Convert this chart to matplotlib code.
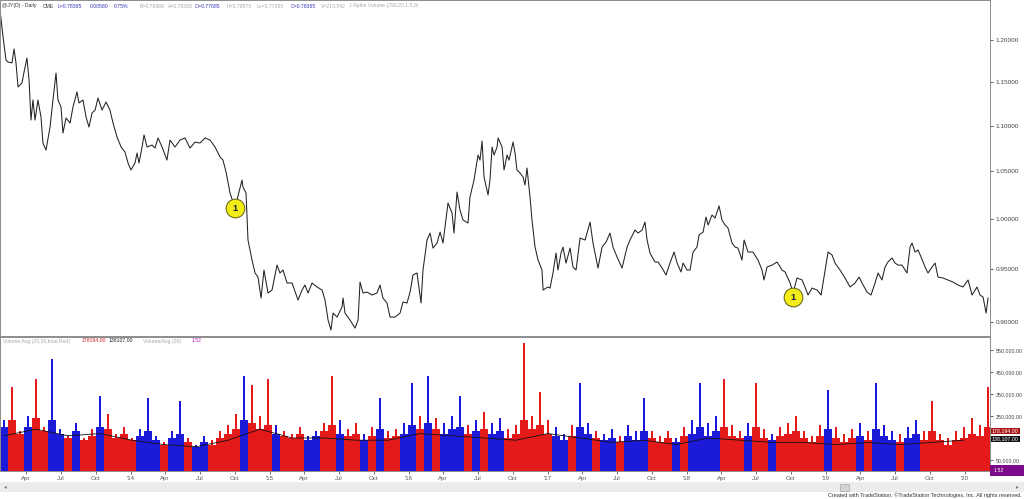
import matplotlib.pyplot as plt
import matplotlib.patches as mpatches
from matplotlib.ticker import NullLocator
import numpy as np

# JY daily close (decimal year, price)
t_price = [
    2013.058, 2013.080, 2013.101, 2013.116, 2013.144, 2013.159, 2013.173, 2013.188, 2013.216, 2013.231,
    2013.252, 2013.267, 2013.281, 2013.295, 2013.310, 2013.331, 2013.353, 2013.367, 2013.389, 2013.418,
    2013.439, 2013.461, 2013.475, 2013.497, 2013.511, 2013.533, 2013.562, 2013.583, 2013.612, 2013.626,
    2013.655, 2013.677, 2013.698, 2013.720, 2013.742, 2013.763, 2013.792, 2013.821, 2013.849, 2013.871,
    2013.900, 2013.929, 2013.957, 2013.979,
    2014.000, 2014.029, 2014.044, 2014.058, 2014.080, 2014.094, 2014.116, 2014.152, 2014.173, 2014.195,
    2014.224, 2014.259, 2014.281, 2014.317, 2014.353, 2014.389, 2014.425, 2014.461, 2014.497, 2014.533,
    2014.569, 2014.605, 2014.641, 2014.662, 2014.684, 2014.713, 2014.734, 2014.749, 2014.763, 2014.799,
    2014.806, 2014.828, 2014.842, 2014.871, 2014.893, 2014.914, 2014.936, 2014.957, 2014.986,
    2015.015, 2015.051, 2015.072, 2015.094, 2015.123, 2015.159, 2015.202, 2015.231, 2015.252, 2015.274,
    2015.303, 2015.339, 2015.375, 2015.396, 2015.418, 2015.439, 2015.454, 2015.483, 2015.518, 2015.526,
    2015.540, 2015.576, 2015.598, 2015.612, 2015.634, 2015.648, 2015.670, 2015.698, 2015.734, 2015.770,
    2015.792, 2015.813, 2015.842, 2015.864, 2015.900, 2015.936, 2015.957, 2015.986,
    2016.008, 2016.029, 2016.058, 2016.087, 2016.101, 2016.130, 2016.152, 2016.173, 2016.202, 2016.224,
    2016.245, 2016.281, 2016.310, 2016.324, 2016.346, 2016.367, 2016.389, 2016.425, 2016.439, 2016.468,
    2016.497, 2016.511, 2016.526, 2016.540, 2016.569, 2016.583, 2016.598, 2016.612, 2016.634, 2016.641,
    2016.670, 2016.684, 2016.706, 2016.720, 2016.749, 2016.763, 2016.777, 2016.799, 2016.821, 2016.835,
    2016.849, 2016.871, 2016.885, 2016.907, 2016.929, 2016.957, 2016.965,
    2017.000, 2017.015, 2017.036, 2017.058, 2017.072, 2017.094, 2017.108, 2017.130, 2017.159, 2017.180,
    2017.202, 2017.231, 2017.267, 2017.303, 2017.324, 2017.360, 2017.389, 2017.418, 2017.446, 2017.468,
    2017.497, 2017.533, 2017.569, 2017.590, 2017.626, 2017.648, 2017.677, 2017.698, 2017.713, 2017.734,
    2017.770, 2017.792, 2017.821, 2017.849, 2017.878, 2017.907, 2017.929, 2017.957, 2017.972,
    2018.000, 2018.022, 2018.044, 2018.072, 2018.087, 2018.116, 2018.137, 2018.152, 2018.180, 2018.202,
    2018.231, 2018.252, 2018.274, 2018.295, 2018.324, 2018.346, 2018.367, 2018.396, 2018.411, 2018.439,
    2018.475, 2018.511, 2018.540, 2018.554, 2018.576, 2018.612, 2018.648, 2018.684, 2018.706, 2018.742,
    2018.763, 2018.792, 2018.828, 2018.849, 2018.871, 2018.900, 2018.936, 2018.965, 2018.986,
    2019.015, 2019.044, 2019.065, 2019.101, 2019.137, 2019.173, 2019.209, 2019.238, 2019.267, 2019.295,
    2019.324, 2019.353, 2019.375, 2019.403, 2019.425, 2019.446, 2019.475, 2019.497, 2019.518, 2019.547,
    2019.583, 2019.605, 2019.619, 2019.641, 2019.662, 2019.684, 2019.713, 2019.734, 2019.763, 2019.785,
    2019.806, 2019.842, 2019.878, 2019.914, 2019.950, 2019.986,
    2020.022, 2020.051, 2020.087, 2020.108, 2020.130, 2020.152, 2020.166,
]
price = [
    1.2377, 1.2041, 1.1761, 1.1737, 1.1726, 1.1894, 1.1726, 1.1442, 1.1489, 1.1618,
    1.1785, 1.1524, 1.1063, 1.1291, 1.1063, 1.1291, 1.1097, 1.0806, 1.0729, 1.0984,
    1.1291, 1.1606, 1.1291, 1.1211, 1.0917, 1.1086, 1.1029, 1.1211, 1.1384, 1.1257,
    1.1291, 1.1097, 1.0984, 1.1142, 1.1176, 1.1314, 1.1176, 1.1268, 1.1176, 1.1029,
    1.0873, 1.0762, 1.0708, 1.0588,
    1.0513, 1.0588, 1.0697, 1.0588, 1.0762, 1.0895, 1.0762, 1.0784, 1.0751, 1.0862,
    1.0762, 1.0620, 1.0839, 1.0762, 1.0839, 1.0862, 1.0751, 1.0817, 1.0806, 1.0862,
    1.0839, 1.0762, 1.0653, 1.0620, 1.0491, 1.0269, 1.0175, 1.0072, 1.0196, 1.0406,
    1.0332, 1.0269, 0.9788, 0.9590, 0.9464, 0.9425, 0.9225, 0.9493, 0.9273,
    0.9301, 0.9541, 0.9464, 0.9493, 0.9368, 0.9368, 0.9207, 0.9301, 0.9349, 0.9273,
    0.9368, 0.9330, 0.9301, 0.9207, 0.9021, 0.8929, 0.9085, 0.9048, 0.9141, 0.9225,
    0.9085, 0.9021, 0.8975, 0.8947, 0.9021, 0.9377, 0.9273, 0.9282, 0.9254, 0.9273,
    0.9349, 0.9225, 0.9179, 0.9048, 0.9048, 0.9085, 0.9188, 0.9179,
    0.9282, 0.9445, 0.9464, 0.9179, 0.9493, 0.9788, 0.9858, 0.9708, 0.9758, 0.9868,
    0.9758, 1.0165, 1.0061, 0.9858, 1.0279, 1.0092, 0.9990, 0.9959, 1.0227, 1.0406,
    1.0675, 1.0620, 1.0828, 1.0438, 1.0248, 1.0406, 1.0762, 1.0675, 1.0762, 1.0862,
    1.0762, 1.0513, 1.0675, 1.0620, 1.0817, 1.0697, 1.0513, 1.0481, 1.0438, 1.0353,
    1.0534, 1.0227, 0.9990, 0.9718, 0.9590, 0.9493, 0.9301,
    0.9330, 0.9320, 0.9464, 0.9659, 0.9493, 0.9659, 0.9718, 0.9561, 0.9708, 0.9522,
    0.9493, 0.9808, 0.9788, 0.9969, 0.9758, 0.9512, 0.9718, 0.9768, 0.9858, 0.9718,
    0.9620, 0.9512, 0.9718, 0.9788, 0.9888, 0.9858, 0.9888, 0.9969, 0.9788, 0.9659,
    0.9571, 0.9571, 0.9512, 0.9445, 0.9561, 0.9669, 0.9561, 0.9474, 0.9561,
    0.9493, 0.9493, 0.9669, 0.9718, 0.9838, 0.9868, 1.0020, 0.9939, 1.0041, 1.0010,
    1.0134, 0.9990, 0.9939, 0.9909, 0.9758, 0.9718, 0.9708, 0.9590, 0.9788, 0.9669,
    0.9669, 0.9590, 0.9493, 0.9397, 0.9522, 0.9541, 0.9571, 0.9493, 0.9474, 0.9368,
    0.9273, 0.9416, 0.9397, 0.9330, 0.9254, 0.9320, 0.9301, 0.9254, 0.9425,
    0.9669, 0.9639, 0.9561, 0.9493, 0.9416, 0.9330, 0.9368, 0.9425, 0.9349, 0.9282,
    0.9254, 0.9368, 0.9464, 0.9397, 0.9522, 0.9571, 0.9610, 0.9561, 0.9541, 0.9541,
    0.9464, 0.9718, 0.9758, 0.9669, 0.9689, 0.9620, 0.9522, 0.9464, 0.9522, 0.9561,
    0.9425, 0.9416, 0.9397, 0.9377, 0.9349, 0.9330,
    0.9397, 0.9254, 0.9330, 0.9254, 0.9235, 0.9085, 0.9225,
]

# volume, one slot per ~3 weeks (thousands of contracts)
# typical daily level in the slot, and the tallest daily bar in it
vol_start = 2013.087
vol_step = 0.05755
vol_typ_k = [
    200, 230, 170, 200, 240, 180, 230, 170, 150, 180,
    140, 160, 200, 190, 150, 170, 140, 160, 180, 140,
    120, 150, 170, 130, 110, 130, 120, 150, 170, 190,
    230, 220, 190, 210, 170, 160, 150, 170, 140, 160,
    180, 210, 170, 160, 170, 140, 160, 190, 150, 160,
    170, 210, 190, 220, 190, 170, 190, 200, 170, 180,
    190, 170, 180, 150, 170, 230, 190, 210, 170, 160,
    140, 160, 200, 170, 150, 140, 150, 130, 160, 140,
    180, 150, 130, 150, 130, 160, 170, 200, 160, 180,
    200, 160, 150, 160, 200, 150, 140, 160, 170, 180,
    150, 130, 160, 190, 150, 130, 150, 160, 140, 190,
    160, 140, 130, 150, 170, 140, 180, 140, 120, 140,
    150, 170, 160, 200,
]
vol_max_k = [
    230, 380, 180, 250, 420, 200, 510, 190, 160, 220,
    150, 190, 340, 260, 170, 200, 150, 190, 330, 160,
    130, 180, 320, 150, 120, 160, 140, 180, 210, 260,
    430, 390, 250, 420, 210, 180, 170, 200, 160, 180,
    220, 430, 230, 190, 220, 170, 200, 330, 180, 190,
    220, 400, 250, 430, 240, 220, 250, 340, 210, 230,
    270, 220, 240, 190, 210, 580, 250, 360, 230, 200,
    170, 210, 400, 220, 180, 170, 190, 160, 210, 180,
    330, 180, 160, 180, 150, 200, 230, 400, 220, 250,
    420, 210, 180, 220, 400, 190, 170, 200, 220, 250,
    180, 160, 210, 370, 200, 170, 190, 220, 180, 400,
    210, 180, 170, 200, 230, 180, 320, 170, 150, 180,
    200, 240, 210, 380,
]

# 20-day volume average, read every ~12 weeks (thousands)
avg_step = 0.2302
vol_avg_k = [
    160, 190, 160, 170, 140, 120, 110, 140, 190, 150,
    150, 140, 140, 170, 160, 150, 140, 170, 150, 130,
    140, 120, 150, 140, 130, 130, 120, 130, 120, 130,
    140,
]

# J-Spike signals
spike_t = [2014.749, 2018.763]
spike_p = [1.0113, 0.9235]

month_off = [('Apr', 0.2466), ('Jul', 0.4959), ('Oct', 0.7479)]
price_ticks = [0.90, 0.95, 1.00, 1.05, 1.10, 1.15, 1.20]
vol_ticks = [50000, 250000, 350000, 450000, 550000]

W, H = 1024, 499
fx = lambda px: px / W
fy = lambda py: 1 - py / H

plt.rcParams['font.family'] = ['Liberation Sans', 'DejaVu Sans']
fig = plt.figure(figsize=(10.24, 4.99), dpi=100)

ax_p = fig.add_axes([0, fy(336), fx(990), fy(0) - fy(336)])
ax_v = fig.add_axes([0, fy(471), fx(990), fy(337) - fy(471)])
x0, x1 = 2013.058, 2020.180

# price panel
ax_p.plot(t_price, price, color='#222222', lw=0.75)
ax_p.plot(spike_t, spike_p, 'o', ms=13.5, mfc='#f4ec16', mec='#5a5a10', mew=0.7)
for t, p in zip(spike_t, spike_p):
    ax_p.text(t, p, '1', ha='center', va='center', fontsize=6.5, fontweight='bold', color='#1b1b40')
ax_p.set_yscale('log')
ax_p.set_xlim(x0, x1)
ax_p.set_ylim(0.8875, 1.2504)
ax_p.yaxis.tick_right()
ax_p.set_yticks(price_ticks)
ax_p.set_yticklabels([f'{v:.5f}' for v in price_ticks])
ax_p.yaxis.set_minor_locator(NullLocator())
ax_p.set_xticks([])
ax_p.tick_params(axis='y', length=2, width=0.6, pad=2, labelsize=4.6, colors='#444444')

# volume panel
vt = vol_start + vol_step * np.arange(len(vol_typ_k))
vtyp = np.array(vol_typ_k) * 1000
vmax = np.array(vol_max_k) * 1000
pv = np.interp(vt, t_price, price)
up = np.r_[True, np.diff(pv) >= 0]
colors = np.where(up, '#1a1ad8', '#e41a1a')
ax_v.bar(vt, vmax, width=vol_step * 0.22, color=colors, linewidth=0)
ax_v.bar(vt, vtyp, width=vol_step, color=colors, linewidth=0)
at = vol_start + avg_step * np.arange(len(vol_avg_k))
ax_v.plot(at, np.array(vol_avg_k) * 1000, color='#111111', lw=0.6)
ax_v.set_xlim(x0, x1)
ax_v.set_ylim(0, 609000)
ax_v.yaxis.tick_right()
ax_v.set_yticks(vol_ticks)
ax_v.set_yticklabels([f'{v:,.2f}' for v in vol_ticks])
ax_v.tick_params(axis='y', length=2, width=0.6, pad=2, labelsize=3.8, colors='#444444')

xt, xl = [], []
for y in range(2013, 2021):
    xt.append(y)
    xl.append("'" + str(y)[2:])
    for name, off in month_off:
        xt.append(y + off)
        xl.append(name)
keep = [(a, b) for a, b in zip(xt, xl) if x0 < a < x1]
ax_v.set_xticks([a for a, _ in keep])
ax_v.set_xticklabels([b for _, b in keep])
ax_v.tick_params(axis='x', length=2, width=0.6, pad=1.5, labelsize=4.4, colors='#555555')

for ax in (ax_p, ax_v):
    for s in ax.spines.values():
        s.set_color('#8c8c8c')
        s.set_linewidth(0.7)

# header texts
head = [
    (2, '@JY(D) - Daily', '#333333'), (43, 'CME', '#333333'),
    (58, 'L=0.78365', '#3636b8'), (90, '0.00580', '#3636b8'), (114, '0.75%', '#3636b8'),
    (140, 'B=0.78369', '#a8a8a8'), (168, 'A=0.78365', '#a8a8a8'),
    (195, 'O=0.77685', '#3636b8'), (227, 'H=0.78575', '#a8a8a8'), (257, 'Lo=0.77385', '#a8a8a8'),
    (291, 'C=0.78365', '#3636b8'), (321, 'V=213,542', '#a8a8a8'),
    (349, 'J-Spike Volume (250,20,1.5,0)', '#a8a8a8'),
]
for px, s, c in head:
    fig.text(fx(px), fy(6), s, fontsize=3.7, color=c, va='center')

vhead = [
    (3, 'Volume Avg (20,20,blue,Red)', '#a8a8a8'), (82, '178194.00', '#d02020'),
    (109, '138107.00', '#222222'), (143, 'Volume/Avg (20)', '#a8a8a8'), (192, '1.52', '#c020c0'),
]
for px, s, c in vhead:
    fig.text(fx(px), fy(341), s, fontsize=3.7, color=c, va='center')

# last-value boxes on the volume scale
for py, s, bg in [(431, '178,194.00', '#a81414'), (439, '138,107.00', '#111111')]:
    fig.text(fx(992), fy(py), s, fontsize=3.8, color='white', va='center',
             bbox=dict(boxstyle='square,pad=0.15', fc=bg, ec='none'))
fig.patches.append(mpatches.Rectangle((fx(990), fy(476)), fx(34), fy(465) - fy(476),
                                      transform=fig.transFigure, fc='#7d0a8a', ec='none'))
fig.text(fx(994), fy(470.5), '1.52', fontsize=3.8, color='white', va='center')

# scroll bar strip and footer
fig.patches.append(mpatches.Rectangle((0, fy(492)), 1, fy(482) - fy(492),
                                      transform=fig.transFigure, fc='#ececec', ec='none'))
fig.patches.append(mpatches.Rectangle((fx(840), fy(491)), fx(9), fy(484) - fy(491),
                                      transform=fig.transFigure, fc='#d4d4d4', ec='#a8a8a8', lw=0.5))
fig.text(fx(4), fy(487), '◂', fontsize=4, color='#777777', va='center')
fig.text(fx(1016), fy(487), '▸', fontsize=4, color='#777777', va='center')
fig.text(fx(1022), fy(495.5), 'Created with TradeStation. ©TradeStation Technologies, Inc. All rights reserved.',
         fontsize=4, color='#333333', ha='right', va='center')

fig.savefig('out.png', dpi=100, facecolor='white')
